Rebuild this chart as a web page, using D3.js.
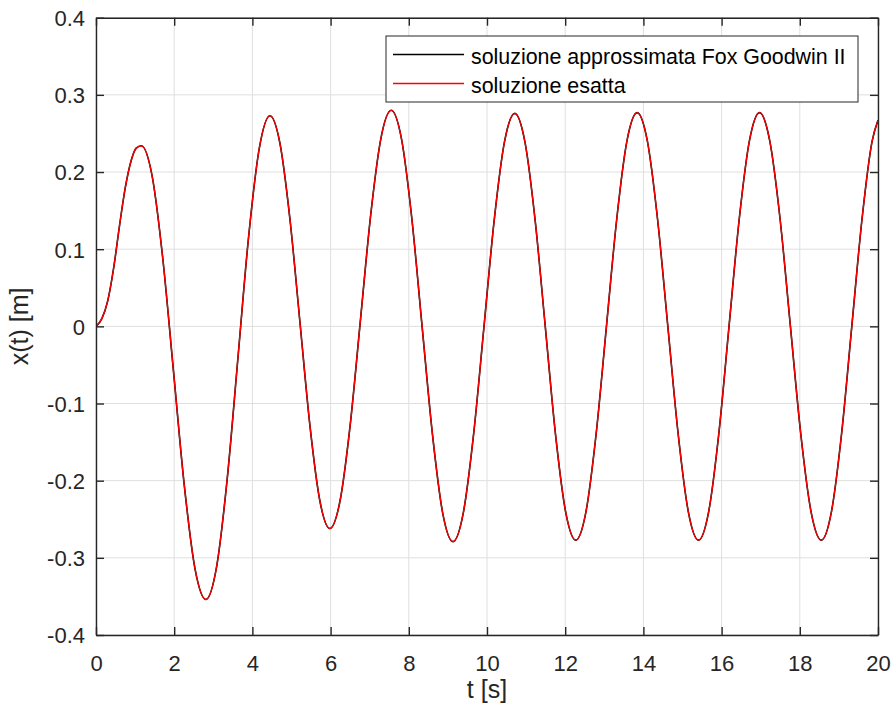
<!DOCTYPE html>
<html><head><meta charset="utf-8">
<script src="https://cdn.jsdelivr.net/npm/d3@7/dist/d3.min.js"></script>
<style>
body{margin:0;background:#fff}
text{font-family:"Liberation Sans",Arial,Helvetica,sans-serif;fill:#262626}
</style>
</head><body>
<svg id="chart" width="894" height="715"></svg>
<script>
// time samples [s]
const tValues = [
  0, 0.15, 0.30, 0.45, 0.60, 0.75, 0.90, 1.03,
  1.16, 1.435, 1.71, 1.985, 2.26, 2.535,
  2.81, 3.083, 3.357, 3.63, 3.903, 4.177,
  4.45, 4.705, 4.96, 5.215, 5.47, 5.725,
  5.98, 6.242, 6.503, 6.765, 7.027, 7.288,
  7.55, 7.813, 8.077, 8.34, 8.603, 8.867,
  9.13, 9.393, 9.657, 9.92, 10.183, 10.447,
  10.71, 10.97, 11.23, 11.49, 11.75, 12.01,
  12.27, 12.532, 12.793, 13.055, 13.317, 13.578,
  13.84, 14.102, 14.363, 14.625, 14.887, 15.148,
  15.41, 15.67, 15.93, 16.19, 16.45, 16.71,
  16.97, 17.233, 17.497, 17.76, 18.023, 18.287,
  18.55, 18.81, 19.07, 19.33, 19.59, 19.85, 20.0
];
// exact solution x(t) [m]
const xEsatta = [
  0, 0.010, 0.033, 0.075, 0.130, 0.180, 0.215, 0.231,
  0.234, 0.195, 0.087, -0.060, -0.207, -0.315,
  -0.354, -0.312, -0.197, -0.041, 0.116, 0.231,
  0.273, 0.237, 0.139, 0.006, -0.128, -0.226,
  -0.262, -0.226, -0.127, 0.009, 0.145, 0.244,
  0.280, 0.243, 0.140, 0.000, -0.139, -0.242,
  -0.279, -0.242, -0.140, -0.002, 0.137, 0.239,
  0.276, 0.239, 0.138, 0.000, -0.139, -0.240,
  -0.277, -0.240, -0.1385, 0.000, 0.1385, 0.240,
  0.277, 0.240, 0.1385, 0.000, -0.1385, -0.240,
  -0.277, -0.240, -0.1385, 0.000, 0.1385, 0.240,
  0.277, 0.240, 0.1385, 0.000, -0.1385, -0.240,
  -0.277, -0.240, -0.1385, 0.000, 0.1385, 0.240, 0.267
];
// Fox-Goodwin II approximation (visually identical to the exact one)
const xFoxGoodwin = xEsatta.slice();

const xTicks = [0, 2, 4, 6, 8, 10, 12, 14, 16, 18, 20];
const yTicks = [-0.4, -0.3, -0.2, -0.1, 0, 0.1, 0.2, 0.3, 0.4];
const seriesNames = ["soluzione approssimata Fox Goodwin II", "soluzione esatta"];
const seriesColors = ["#000000", "#ff0000"];

const svg = d3.select("#chart");
const L = 96, R = 878, T = 17.7, B = 635;
const x = d3.scaleLinear().domain([0, 20]).range([L, R]);
const y = d3.scaleLinear().domain([-0.4, 0.4]).range([B, T]);
const axisColor = "#262626";
const fmt = d => String(+d.toFixed(1));

// grid
const grid = svg.append("g");
grid.selectAll("line.gx").data(xTicks).join("line")
  .attr("x1", d => x(d)).attr("x2", d => x(d)).attr("y1", T).attr("y2", B)
  .attr("stroke", "#dfdfdf").attr("stroke-width", 1);
grid.selectAll("line.gy").data(yTicks).join("line")
  .attr("y1", d => y(d)).attr("y2", d => y(d)).attr("x1", L).attr("x2", R)
  .attr("stroke", "#dfdfdf").attr("stroke-width", 1);

// clip
svg.append("clipPath").attr("id", "clip").append("rect")
  .attr("x", L).attr("y", T).attr("width", R - L).attr("height", B - T);

const pts = tValues.map((t, i) => i);
const mkLine = arr => d3.line().x(i => x(tValues[i])).y(i => y(arr[i])).curve(d3.curveMonotoneX);
const plot = svg.append("g").attr("clip-path", "url(#clip)");
plot.append("path").datum(pts).attr("d", mkLine(xFoxGoodwin))
  .attr("fill", "none").attr("stroke", seriesColors[0]).attr("stroke-width", 1.6);
plot.append("path").datum(pts).attr("d", mkLine(xEsatta))
  .attr("fill", "none").attr("stroke", seriesColors[1]).attr("stroke-width", 1.3);

// axes (box with mirrored inward ticks)
const tl = 8;
const axB = d3.axisBottom(x).tickValues(xTicks).tickFormat(fmt).tickSizeInner(-tl).tickSizeOuter(0).tickPadding(16);
const axT = d3.axisTop(x).tickValues(xTicks).tickFormat("").tickSizeInner(-tl).tickSizeOuter(0);
const axLft = d3.axisLeft(y).tickValues(yTicks).tickFormat(fmt).tickSizeInner(-tl).tickSizeOuter(0).tickPadding(11);
const axRt = d3.axisRight(y).tickValues(yTicks).tickFormat("").tickSizeInner(-tl).tickSizeOuter(0);

function style(g) {
  g.selectAll(".domain").attr("stroke", axisColor).attr("stroke-width", 1.4);
  g.selectAll(".tick line").attr("stroke", axisColor).attr("stroke-width", 1.4);
  g.selectAll(".tick text").attr("fill", axisColor).style("font-size", "22px")
    .style("font-family", '"Liberation Sans",Arial,sans-serif');
}
svg.append("g").attr("transform", `translate(0,${B})`).call(axB).call(style)
  .selectAll(".tick text").attr("dy", null).attr("y", 36);
svg.append("g").attr("transform", `translate(0,${T})`).call(axT).call(style);
svg.append("g").attr("transform", `translate(${L},0)`).call(axLft).call(style)
  .selectAll(".tick text").attr("dy", "0.36em");
svg.append("g").attr("transform", `translate(${R},0)`).call(axRt).call(style);

// axis labels
svg.append("text").attr("x", (L + R) / 2).attr("y", 698).attr("text-anchor", "middle")
  .style("font-size", "25px").text("t [s]");
svg.append("text").attr("transform", `translate(28,${(T + B) / 2}) rotate(-90)`)
  .attr("text-anchor", "middle").style("font-size", "25px").text("x(t) [m]");

// legend
const lg = svg.append("g");
lg.append("rect").attr("x", 386).attr("y", 36).attr("width", 472).attr("height", 66)
  .attr("fill", "#fff").attr("stroke", axisColor).attr("stroke-width", 1);
seriesNames.forEach((name, i) => {
  const ly = 54.5 + i * 29;
  lg.append("line").attr("x1", 393).attr("x2", 464).attr("y1", ly).attr("y2", ly)
    .attr("stroke", seriesColors[i]).attr("stroke-width", 1.5);
  lg.append("text").attr("x", 471).attr("y", ly + 9.5).style("font-size", "21.4px")
    .style("fill", "#000").text(name);
});
</script>
</body></html>
